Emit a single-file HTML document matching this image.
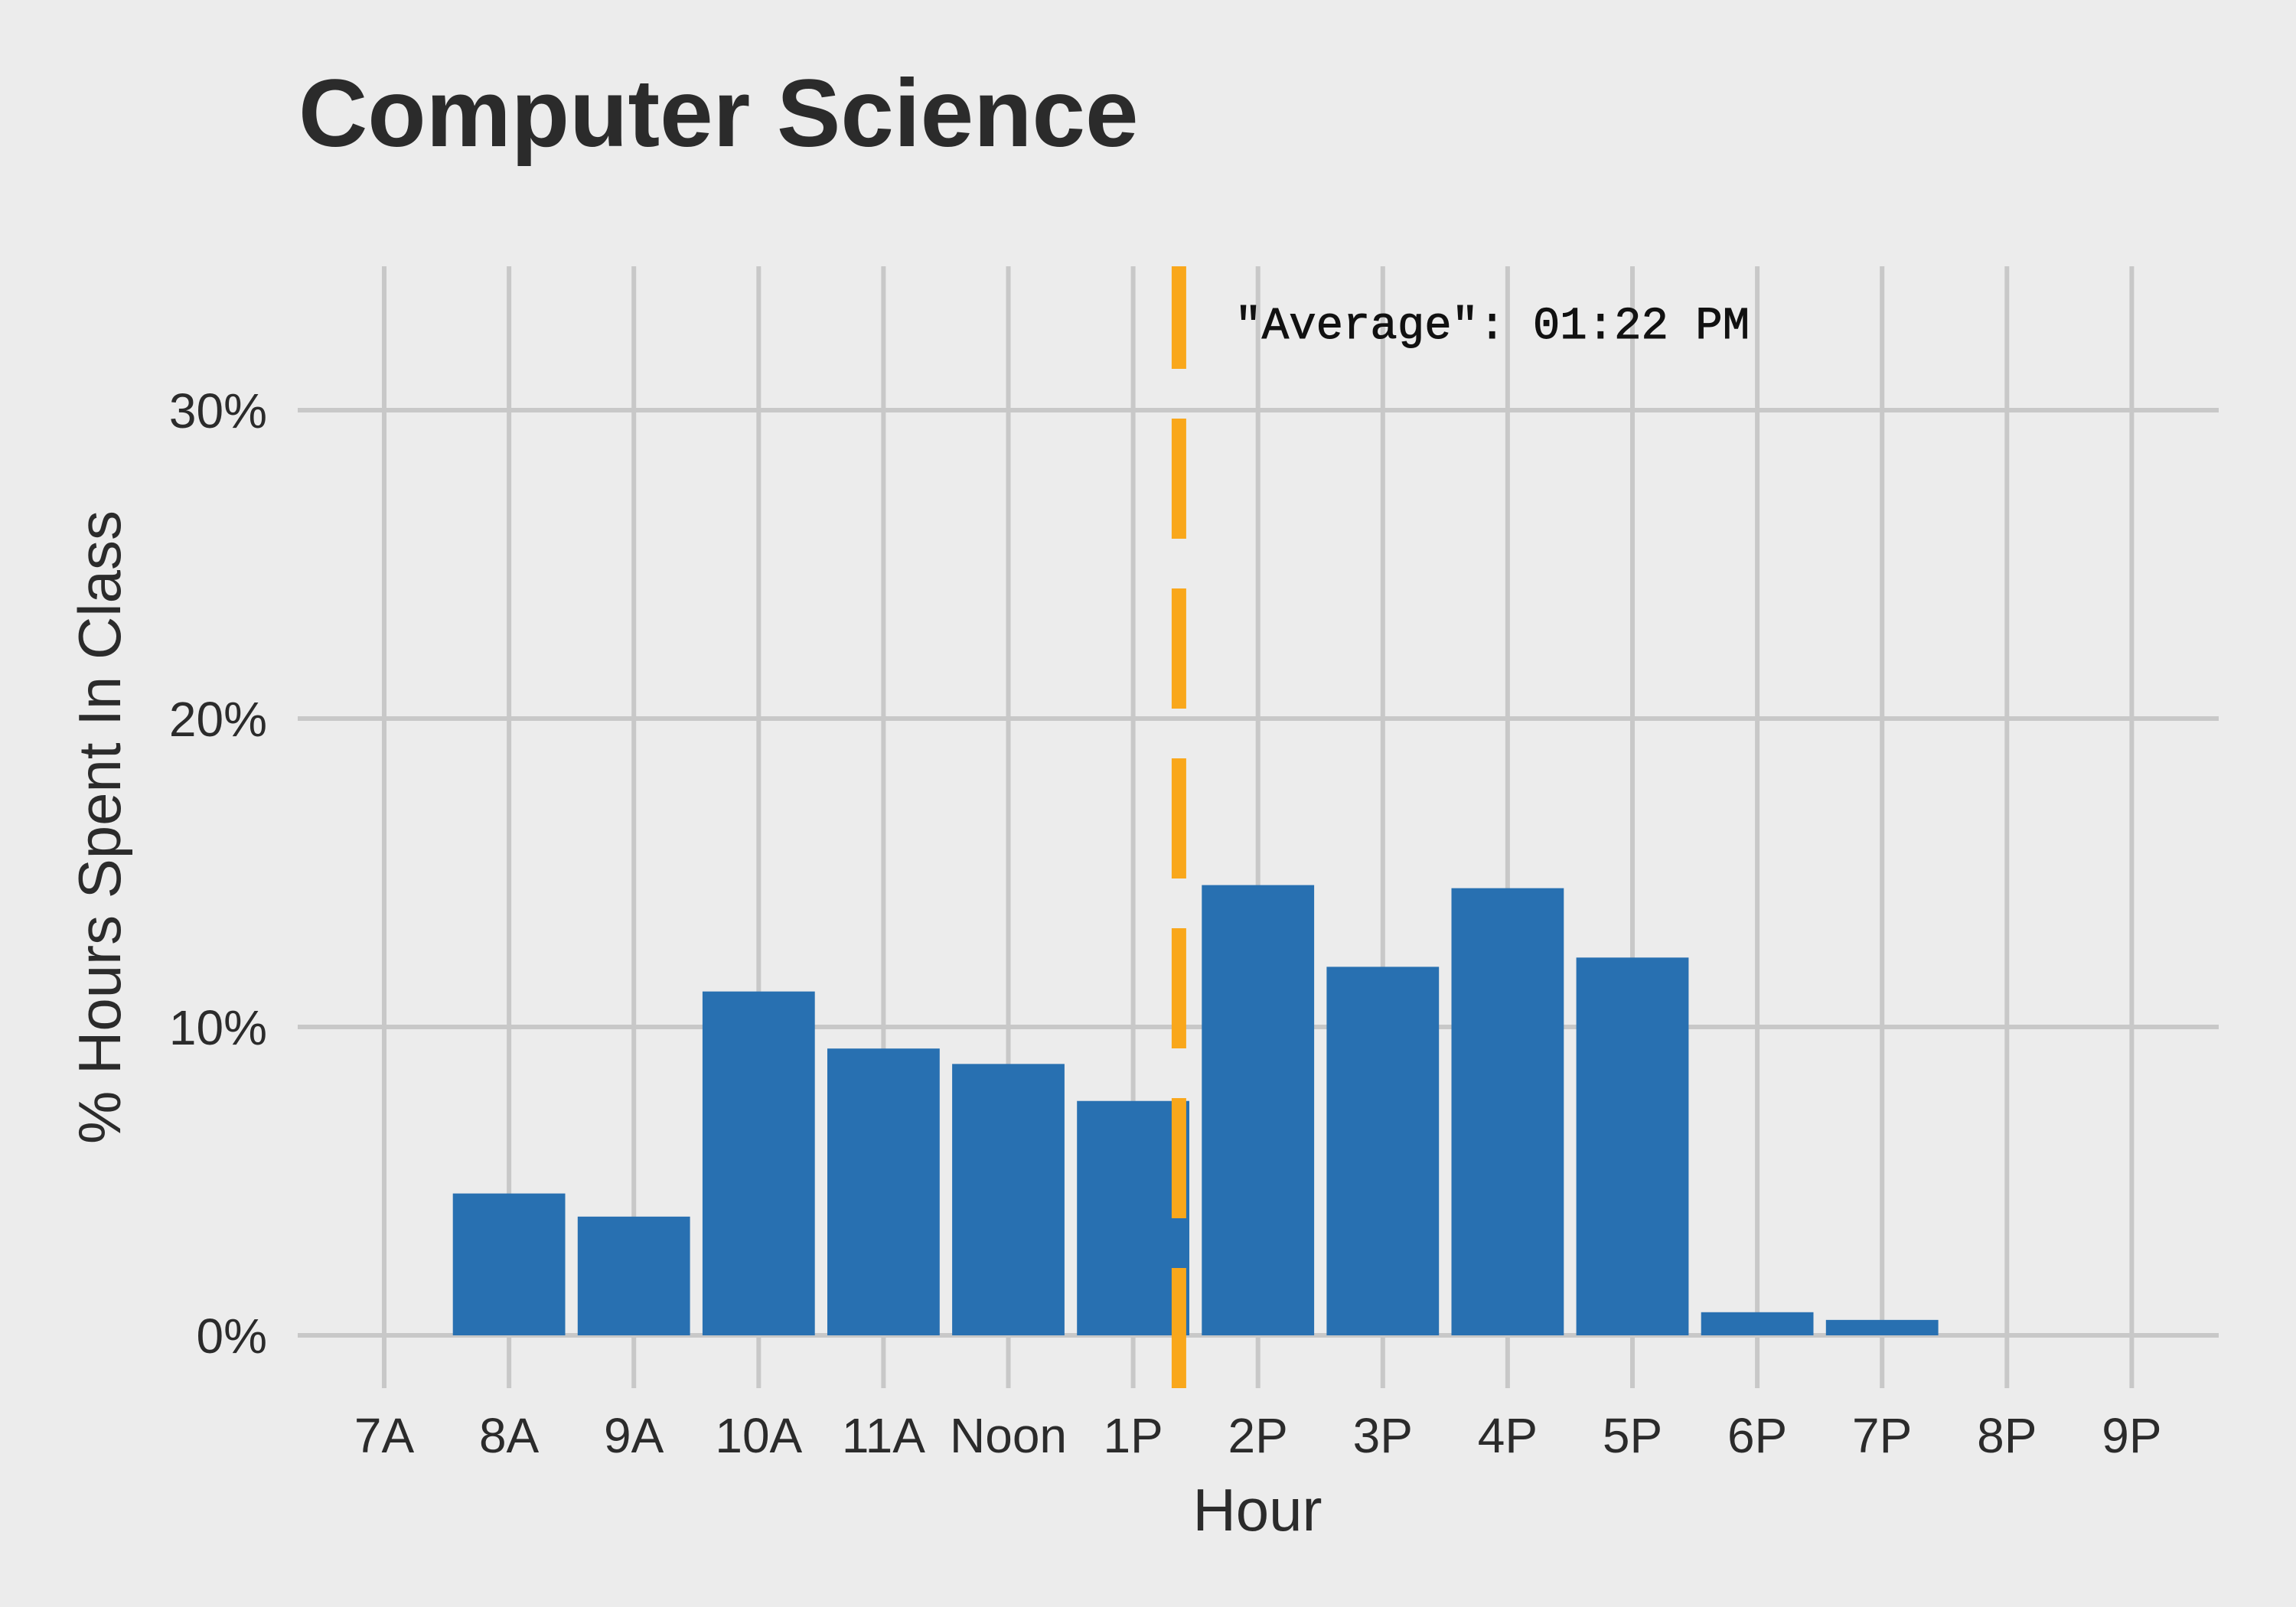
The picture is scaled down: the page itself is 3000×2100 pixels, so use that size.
<!DOCTYPE html>
<html><head><meta charset="utf-8"><style>
html,body{margin:0;padding:0;background:#ececec;}
svg{display:block;}
</style></head><body>
<svg id="chart" width="3000" height="2100" viewBox="0 0 3000 2100" xmlns="http://www.w3.org/2000/svg">
<rect x="0" y="0" width="3000" height="2100" fill="#ececec"/>
<text x="390" y="191" font-family="Liberation Sans, sans-serif" font-weight="bold" font-size="125" fill="#2b2b2b">Computer Science</text>
<g id="grid"></g>
<g id="bars"></g>
<g id="ticks"></g>
<g id="avg"></g>
<text x="1643" y="2000" text-anchor="middle" font-family="Liberation Sans, sans-serif" font-size="78" fill="#2b2b2b">Hour</text>
<text transform="translate(157,1081) rotate(-90)" text-anchor="middle" font-family="Liberation Sans, sans-serif" font-size="78" fill="#2b2b2b">% Hours Spent In Class</text>
</svg>
<script>
const categories = ["7A","8A","9A","10A","11A","Noon","1P","2P","3P","4P","5P","6P","7P","8P","9P"];
const values = [0, 4.6, 3.85, 11.15, 9.3, 8.8, 7.6, 14.6, 11.95, 14.5, 12.25, 0.75, 0.5, 0, 0];
const yTicks = [0, 10, 20, 30];
const yTickLabels = ["0%","10%","20%","30%"];
const averageHour = 13 + 22/60;
const averageLabel = '"Average": 01:22 PM';

const NS = "http://www.w3.org/2000/svg";
const panel = {left: 389, right: 2899, top: 348, bottom: 1814};
const x0 = 502, step = 163.1;
function xScale(i){ return x0 + i*step; }
function xHour(h){ return x0 + (h-7)*step; }
function yScale(v){ return 1745 - v*40.3; }
function mk(tag, attrs, parent){ const e=document.createElementNS(NS,tag); for(const k in attrs) e.setAttribute(k,attrs[k]); parent.appendChild(e); return e; }

const grid=document.getElementById('grid');
yTicks.forEach((t,i)=>{
  const l=mk('line',{x1:panel.left,x2:panel.right,y1:yScale(t),y2:yScale(t),stroke:'#c8c8c8','stroke-width':6},grid);
  
  
  const tx=mk('text',{x:349,y:yScale(t)+23,'text-anchor':'end','font-family':'Liberation Sans, sans-serif','font-size':64,fill:'#2b2b2b'},document.getElementById('ticks'));
  tx.textContent=yTickLabels[i];
  
  
});
categories.forEach((c,i)=>{
  const l=mk('line',{x1:xScale(i),x2:xScale(i),y1:panel.top,y2:panel.bottom,stroke:'#c8c8c8','stroke-width':6},grid);
  
  
  const tx=mk('text',{x:xScale(i),y:1898,'text-anchor':'middle','font-family':'Liberation Sans, sans-serif','font-size':64,fill:'#2b2b2b'},document.getElementById('ticks'));
  tx.textContent=c;
  
  
});
const bars=document.getElementById('bars');
const bw=step*0.9;
values.forEach((v,i)=>{
  if(v<=0) return;
  const r=mk('rect',{x:xScale(i)-bw/2,y:yScale(v),width:bw,height:yScale(0)-yScale(v),fill:'#2870b1'},bars);
  
  
});
const avg=document.getElementById('avg');
const ax=xHour(averageHour);
const al=mk('line',{x1:ax,x2:ax,y1:panel.bottom,y2:panel.top,stroke:'#f9a71b','stroke-width':19,'stroke-dasharray':'157 65'},avg);


const at=mk('text',{x:ax+73,y:442,'font-family':'Liberation Mono, monospace','font-size':59,fill:'#111',stroke:'#111','stroke-width':1},avg);
at.textContent=averageLabel;


</script>
</body></html>
